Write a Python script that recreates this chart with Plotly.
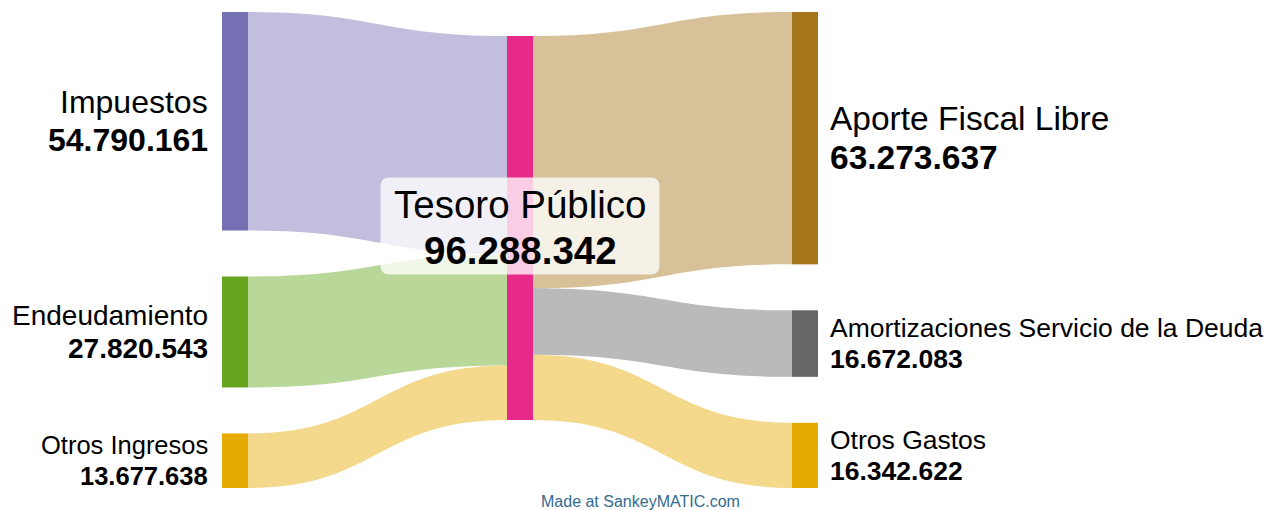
import plotly.graph_objects as go

# Flows
sources = ["Impuestos", "Endeudamiento", "Otros Ingresos",
           "Tesoro Público", "Tesoro Público", "Tesoro Público"]
targets = ["Tesoro Público", "Tesoro Público", "Tesoro Público",
           "Aporte Fiscal Libre", "Amortizaciones Servicio de la Deuda", "Otros Gastos"]
amounts = [54790161, 27820543, 13677638, 63273637, 16672083, 16342622]

nodes = ["Impuestos", "Endeudamiento", "Otros Ingresos", "Tesoro Público",
         "Aporte Fiscal Libre", "Amortizaciones Servicio de la Deuda", "Otros Gastos"]

# Styles (Dark2 palette, label sizes as in SankeyMATIC output)
node_colors = {
    "Impuestos": "#7570b3",
    "Endeudamiento": "#66a61e",
    "Otros Ingresos": "#e6ab02",
    "Tesoro Público": "#e7298a",
    "Aporte Fiscal Libre": "#a6761d",
    "Amortizaciones Servicio de la Deuda": "#666666",
    "Otros Gastos": "#e6ab02",
}
label_sizes = {
    "Impuestos": 32,
    "Endeudamiento": 28,
    "Otros Ingresos": 25.5,
    "Tesoro Público": 38.5,
    "Aporte Fiscal Libre": 33.5,
    "Amortizaciones Servicio de la Deuda": 26.5,
    "Otros Gastos": 26.5,
}
FONT = "Liberation Sans, Arial, sans-serif"

# the page body has an 8px margin, so the figure is drawn 8px in from the corner
BODY = 8
WIDTH, HEIGHT = 1281 - BODY, 510 - BODY
MARGIN = dict(l=222 - BODY, r=463, t=12 - BODY, b=22)
PW = WIDTH - MARGIN["l"] - MARGIN["r"]
PH = HEIGHT - MARGIN["t"] - MARGIN["b"]
THICK = 26
PAD = 46
MID_TOP = 24


def fmt(v):
    return f"{v:,}".replace(",", ".")


def hex_rgba(h, a):
    h = h.lstrip("#")
    return "rgba(%d,%d,%d,%s)" % (int(h[0:2], 16), int(h[2:4], 16), int(h[4:6], 16), a)


totals = {}
for n in nodes:
    inflow = sum(a for t, a in zip(targets, amounts) if t == n)
    outflow = sum(a for s, a in zip(sources, amounts) if s == n)
    totals[n] = max(inflow, outflow)

left = [n for n in nodes if n not in targets]
right = [n for n in nodes if n not in sources]
middle = [n for n in nodes if n not in left and n not in right]
cols = [left, middle, right]

ky = min((PH - (len(c) - 1) * PAD) / sum(totals[n] for n in c) for c in cols)
ycen = {}
xcol = {}
xnorm = [THICK / 2 / PW, 0.5, 1 - THICK / 2 / PW]
for ci, col in enumerate(cols):
    top = MID_TOP if ci == 1 else 0
    for n in col:
        h = totals[n] * ky
        ycen[n] = top + h / 2
        xcol[n] = ci
        top += h + PAD

idx = {n: i for i, n in enumerate(nodes)}
link_colors = [hex_rgba(node_colors[s] if s in left else node_colors[t], 0.45)
               for s, t in zip(sources, targets)]

fig = go.Figure(go.Sankey(
    arrangement="fixed",
    domain=dict(x=[0, 1], y=[0, 1]),
    node=dict(
        label=[""] * len(nodes),
        customdata=nodes,
        x=[xnorm[xcol[n]] for n in nodes],
        y=[ycen[n] / PH for n in nodes],
        pad=PAD,
        thickness=THICK,
        color=[node_colors[n] for n in nodes],
        line=dict(width=0),
        hovertemplate="%{customdata}<br>%{value:,}<extra></extra>",
    ),
    link=dict(
        source=[idx[s] for s in sources],
        target=[idx[t] for t in targets],
        value=amounts,
        color=link_colors,
        hovertemplate="%{source.customdata} → %{target.customdata}<br>%{value:,}<extra></extra>",
    ),
))

annotations = []
shapes = []
for n in nodes:
    fs = label_sizes[n]
    yp = 1 - ycen[n] / PH
    ci = xcol[n]
    if ci == 0:
        pos = dict(x=0, xanchor="right", xshift=-12)
    elif ci == 2:
        pos = dict(x=1, xanchor="left", xshift=10)
    else:
        pos = dict(x=0.5, xanchor="center", xshift=0)
        # translucent rounded box behind the middle label
        bw, bh, r = 279, 97, 9
        cx = 0.5 * PW
        cy = ycen[n] - 2
        x0, x1 = (cx - bw / 2) / PW, (cx + bw / 2) / PW
        y0, y1 = 1 - (cy + bh / 2) / PH, 1 - (cy - bh / 2) / PH
        rx, ry = r / PW, r / PH
        path = (f"M{x0 + rx},{y0} L{x1 - rx},{y0} Q{x1},{y0} {x1},{y0 + ry} "
                f"L{x1},{y1 - ry} Q{x1},{y1} {x1 - rx},{y1} "
                f"L{x0 + rx},{y1} Q{x0},{y1} {x0},{y1 - ry} "
                f"L{x0},{y0 + ry} Q{x0},{y0} {x0 + rx},{y0} Z")
        shapes.append(dict(type="path", path=path, xref="paper", yref="paper",
                           fillcolor="rgba(255,255,255,0.77)", line=dict(width=0),
                           layer="above"))
    annotations.append(dict(text=n, xref="paper", yref="paper", y=yp, yanchor="middle",
                            yshift=0.6 * fs, showarrow=False,
                            font=dict(family=FONT, size=fs, color="#000000"), **pos))
    annotations.append(dict(text="<b>" + fmt(totals[n]) + "</b>", xref="paper", yref="paper",
                            y=yp, yanchor="middle", yshift=-0.58 * fs, showarrow=False,
                            font=dict(family=FONT, size=fs, color="#000000"), **pos))

annotations.append(dict(
    text="Made at SankeyMATIC.com", xref="paper", yref="paper",
    x=(640.5 - BODY - MARGIN["l"]) / PW, y=1 - (501.5 - BODY - MARGIN["t"]) / PH,
    xanchor="center", yanchor="middle", showarrow=False,
    font=dict(family=FONT, size=16, color="#336b8f"),
))

fig.update_layout(
    width=WIDTH, height=HEIGHT,
    margin=dict(MARGIN, pad=0),
    paper_bgcolor="white",
    plot_bgcolor="white",
    annotations=annotations,
    shapes=shapes,
    showlegend=False,
)

fig.write_html("out.html")
